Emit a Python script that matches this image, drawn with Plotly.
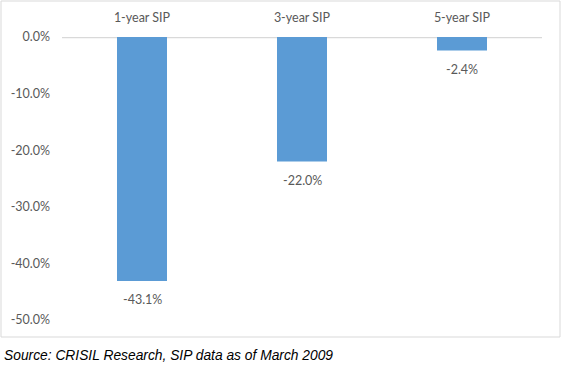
import plotly.graph_objects as go

categories = ["1-year SIP", "3-year SIP", "5-year SIP"]
returns = [-0.431, -0.220, -0.024]
tick_vals = [0, -0.1, -0.2, -0.3, -0.4, -0.5]
tick_text = ["0.0%", "-10.0%", "-20.0%", "-30.0%", "-40.0%", "-50.0%"]
source = "Source: CRISIL Research, SIP data as of March 2009"

W, H = 563, 369
L, R, T, B = 62, 21, 37, 49
pw, ph = W - L - R, H - T - B

def px(x):
    return (x - L) / pw

def py(y):
    return (H - B - y) / ph

fnt = dict(family="Lato", size=12.5, color="#595959")

fig = go.Figure(go.Bar(
    x=categories, y=returns,
    marker=dict(color="#5B9BD5", line=dict(width=0)),
    width=0.3125,
    textposition="none",
    hoverinfo="skip",
))

annotations = [dict(x=c, y=v, xref="x", yref="y", text=f"{v*100:.1f}%",
                    showarrow=False, xanchor="center", yanchor="top",
                    yshift=-9, font=fnt)
               for c, v in zip(categories, returns)]
annotations.append(dict(text=f"<i>{source}</i>", xref="paper", yref="paper",
                        x=px(2), y=py(355), xanchor="left", yanchor="middle",
                        showarrow=False,
                        font=dict(family="Liberation Sans", size=13.8, color="#000000")))

fig.update_layout(
    width=W, height=H,
    margin=dict(l=L, r=R, t=T, b=B, autoexpand=False),
    paper_bgcolor="white", plot_bgcolor="white",
    showlegend=False,
    xaxis=dict(side="top", showline=False, showgrid=False, ticks="",
               tickfont=fnt, automargin=False, ticklabelstandoff=12,
               range=[-0.5, 2.5]),
    yaxis=dict(range=[-0.5, 0], tickvals=tick_vals, ticktext=tick_text,
               showgrid=False, zeroline=False, showline=False, ticks="",
               tickfont=fnt, automargin=False,
               ticklabelstandoff=11),
    shapes=[
        dict(type="rect", xref="paper", yref="paper",
             x0=px(1), x1=px(560), y0=py(1), y1=py(337),
             line=dict(color="#d9d9d9", width=1), fillcolor="rgba(0,0,0,0)",
             layer="below"),
        dict(type="line", xref="paper", yref="y", x0=0, x1=1, y0=0, y1=0,
             line=dict(color="#d9d9d9", width=2.5), layer="below"),
    ],
    annotations=annotations,
)

fig.write_html("out.html", config={"displayModeBar": False},
               post_script="document.body.style.margin='0';")
